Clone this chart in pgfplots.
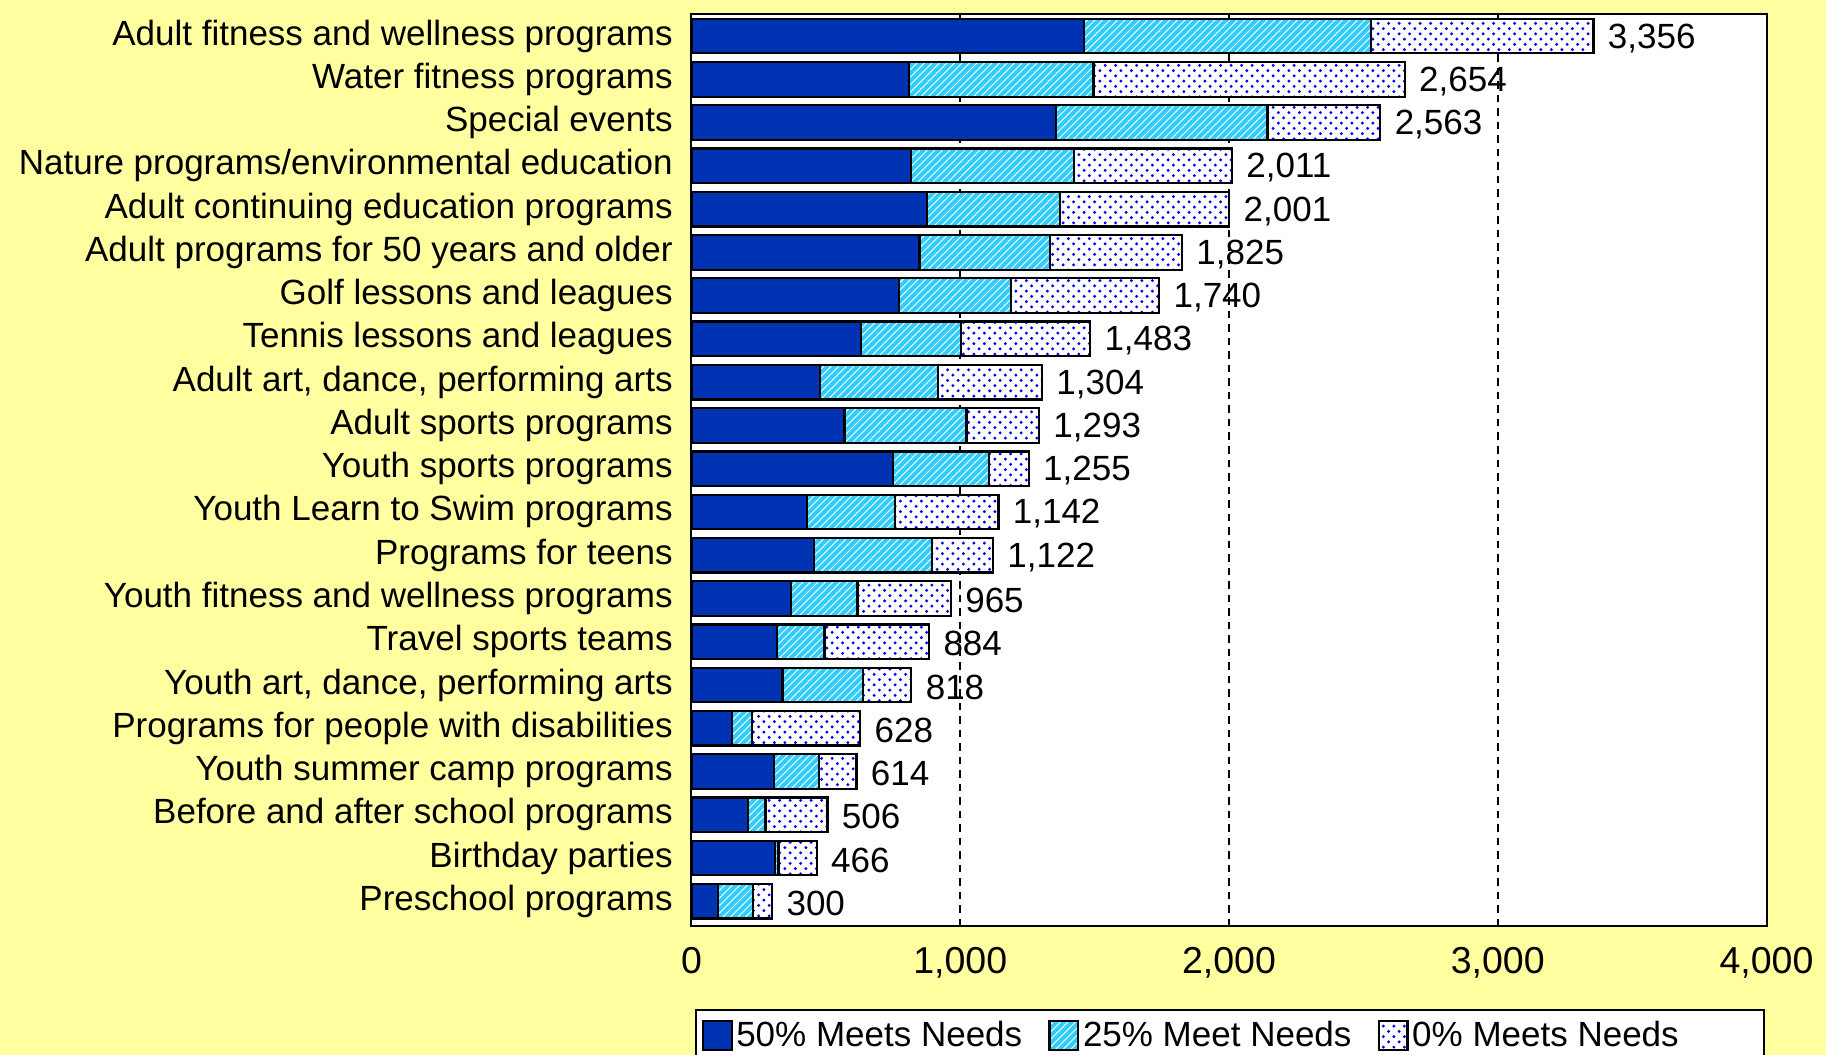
\documentclass[border=0pt]{standalone}
\usepackage{pgfplots}
\pgfplotsset{compat=1.18}
\usepackage{pgfplotstable}
\usetikzlibrary{patterns}
\usepackage{fontspec}
\setmainfont{Liberation Sans}
\definecolor{bgyellow}{RGB}{255,255,160}
\definecolor{darkblue}{RGB}{0,51,179}
\definecolor{cyanb}{RGB}{51,204,255}
\definecolor{dotblue}{RGB}{0,0,255}
\pgfdeclarepatternformonly{bluedots}{\pgfpoint{-1pt}{-1pt}}{\pgfpoint{5pt}{5pt}}{\pgfpoint{4.2pt}{4.2pt}}{%
  \pgfpathcircle{\pgfpoint{1.05pt}{1.05pt}}{0.65pt}%
  \pgfpathcircle{\pgfpoint{3.15pt}{3.15pt}}{0.65pt}%
  \pgfusepath{fill}}
\pgfplotstableread{
y d c o t
1 1461 1067 828 3356
2 810 686 1158 2654
3 1357 786 420 2563
4 817 607 587 2011
5 876 495 630 2001
6 848 487 490 1825
7 772 416 552 1740
8 630 374 479 1483
9 479 437 388 1304
10 569 454 270 1293
11 750 356 149 1255
12 430 327 385 1142
13 457 438 227 1122
14 369 249 347 965
15 319 176 389 884
16 339 300 179 818
17 151 75 402 628
18 307 167 140 614
19 210 65 231 506
20 311 13 142 466
21 99 130 71 300
}\data
\newcommand{\lblfont}{\fontsize{14pt}{16pt}\selectfont}
\begin{document}
\begin{tikzpicture}
\fill[bgyellow] (-276.6pt,-51.7pt) rectangle (453.8pt,370.3pt);
\begin{axis}[
  scale only axis, width=430pt, height=364.7pt,
  at={(0pt,0pt)}, anchor=south west,
  axis background/.style={fill=white},
  axis line style={black, line width=0.8pt},
  xbar stacked, bar width=0.8,
  y dir=reverse, ymin=0.49, ymax=21.565,
  xmin=0, xmax=4000, enlargelimits=false,
  xtick={0,1000,2000,3000,4000},
  scaled x ticks=false,
  /pgf/number format/1000 sep={,},
  /pgf/number format/assume math mode=true,
  ytick={1,...,21},
  yticklabels={Adult fitness and wellness programs, Water fitness programs, Special events, Nature programs/environmental education, Adult continuing education programs, Adult programs for 50 years and older, Golf lessons and leagues, Tennis lessons and leagues, {Adult art, dance, performing arts}, Adult sports programs, Youth sports programs, Youth Learn to Swim programs, Programs for teens, Youth fitness and wellness programs, Travel sports teams, {Youth art, dance, performing arts}, Programs for people with disabilities, Youth summer camp programs, Before and after school programs, Birthday parties, Preschool programs},
  yticklabel style={font=\lblfont, xshift=-4pt},
  xticklabel style={font=\fontsize{15pt}{17pt}\selectfont, yshift=-5pt},
  major tick length=0pt,
  xmajorgrids,
  grid style={black, dash pattern=on 3pt off 2.4pt, line width=0.7pt},
  clip=false,
  legend image code/.code={\draw[#1,draw=black,line width=0.8pt] (0pt,-5.8pt) rectangle (11.5pt,5.8pt);},
  legend style={at={(axis description cs:0.0033,0)}, anchor=north west, yshift=-33.1pt,
    legend columns=-1, draw=black, line width=0.8pt, fill=white, font=\lblfont,
    inner xsep=2.3pt, inner ysep=3pt,
    nodes={inner sep=1.5pt},
    /tikz/every even column/.append style={column sep=9pt}},
]
\addplot[fill=darkblue, draw=black, line width=0.9pt] table[x=d,y=y]{\data};
\addplot[pattern=north east lines, pattern color=white, preaction={fill=cyanb}, draw=black, line width=0.9pt] table[x=c,y=y]{\data};
\addplot[pattern=bluedots, pattern color=dotblue, preaction={fill=white}, draw=black, line width=0.9pt,
  nodes near coords, point meta=explicit,
  visualization depends on={\thisrow{o} \as \segw},
  nodes near coords style={font=\lblfont, text=black, fill=none, draw=none, anchor=west,
    xshift={0.05375pt*\segw+2pt}, yshift=-0.8pt}]
  table[x=o,y=y,meta=t]{\data};
\legend{50\% Meets Needs, 25\% Meet Needs, \makebox[137pt][l]{0\% Meets Needs}}
\end{axis}
\pgfresetboundingbox
\path (-276.6pt,-51.7pt) rectangle (453.8pt,370.3pt);
\end{tikzpicture}
\end{document}
